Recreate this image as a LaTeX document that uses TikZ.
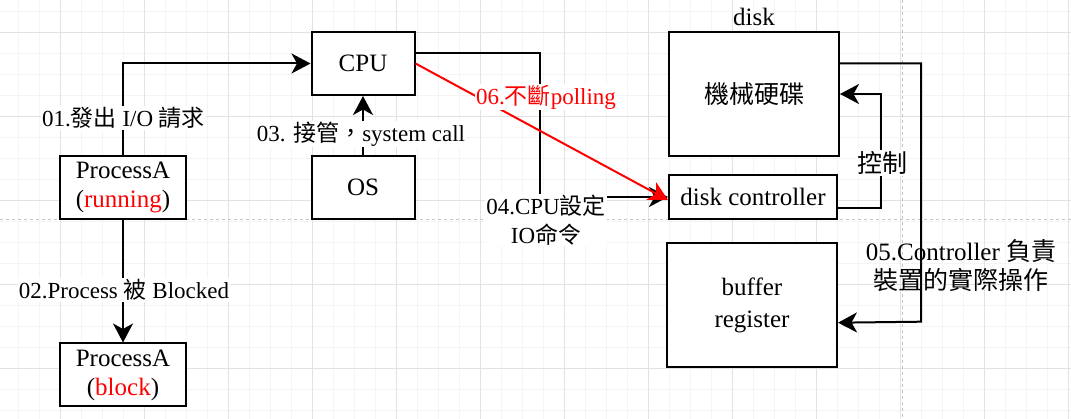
\documentclass[tikz,border=0pt]{standalone}
\usepackage{fontspec}
\setmainfont{Liberation Serif}
\newfontfamily\cjk{Noto Sans CJK TC}
\newcommand\zh[1]{{\cjk #1}}
\usetikzlibrary{arrows.meta,calc}
\definecolor{gridminor}{HTML}{F4F4F4}
\definecolor{gridmajor}{HTML}{E2E2E2}
\definecolor{pagebreak}{HTML}{C4C4C4}
\definecolor{hot}{HTML}{FF0000}
\begin{document}
\begin{tikzpicture}[x=1pt,y=-1pt,
  box/.style={draw=black, line width=2pt, fill=white, inner sep=0pt, align=center, font=\fontsize{25}{29}\selectfont},
  lbl/.style={fill=white, inner sep=1pt, align=center, font=\fontsize{23}{29}\selectfont},
  txt/.style={inner sep=0pt, align=center, font=\fontsize{25}{29}\selectfont},
  conn/.style={line width=2pt, -{Stealth[length=19pt,width=20pt,inset=5.5pt]}},
  minorline/.style={draw=gridminor, line width=1pt},
  majorline/.style={draw=gridmajor, line width=1pt},
  pageline/.style={draw=pagebreak, line width=1pt, dash pattern=on 3pt off 3pt}
]
\useasboundingbox (0,0) rectangle (1071,419);
\fill[white] (0,0) rectangle (1071,419);
% grid
\foreach \i in {0,...,50} {\draw[minorline] ({18.3+21*\i},0) -- ({18.3+21*\i},419);}
\foreach \j in {0,...,19} {\draw[minorline] (0,{11.3+21*\j}) -- (1071,{11.3+21*\j});}
\foreach \i in {0,...,12} {\draw[majorline] ({60.3+84*\i},0) -- ({60.3+84*\i},419);}
\foreach \j in {0,...,4} {\draw[majorline] (0,{32.3+84*\j}) -- (1071,{32.3+84*\j});}
\draw[pageline] (0,219.5) -- (1071,219.5);
\draw[pageline] (902.3,0) -- (902.3,419);

% boxes
\node[box, minimum width=126pt, minimum height=63pt] (pa1) at (123,187.5) {ProcessA\\(\textcolor{hot}{running})};
\node[box, minimum width=126pt, minimum height=63pt] (pa2) at (123,375) {ProcessA\\(\textcolor{hot}{block})};
\node[box, minimum width=103pt, minimum height=63pt] (cpu) at (363,63.5) {CPU};
\node[box, minimum width=103pt, minimum height=63pt] (os) at (363,187.5) {OS};
\node[box, minimum width=170pt, minimum height=124pt] (hdd) at (754,94) {\zh{機械硬碟}};
\node[box, minimum width=168pt, minimum height=44pt] (dc) at (753,197) {disk controller};
\node[box, minimum width=170pt, minimum height=124pt, font=\fontsize{25}{32}\selectfont] (br) at (752,305) {buffer\\register};
\node[txt] (disk) at (754,17) {disk};

% connector helpers
\coordinate (c4) at (540,197);
\coordinate (c6) at (881,94);
\coordinate (c7) at (921,321.7);

% connectors
\draw[conn] (pa1.north) |- (cpu.west);
\draw[conn] (pa1.south) -- (pa2.north);
\draw[conn] (os.north) -- (cpu.south);
\draw[conn] ([yshift=10.2pt]cpu.east) -| (c4) -- (dc.west);
\draw[conn] ([yshift=-11.3pt]dc.east) -| (c6) -- (hdd.east);
\draw[conn] ([yshift=30.7pt]hdd.east) -| (c7) -- ([yshift=-17.7pt]br.east);
\draw[conn, draw=hot, -{Stealth[length=19pt,width=20pt,inset=5.5pt,fill=hot]}] (cpu.east) -- ([yshift=-3pt]dc.west);

% labels
\node[lbl] (l01) at (123.5,118) {01.\zh{發出} I/O \zh{請求}};
\node[lbl] (l02) at (124,290) {02.Process \zh{被} Blocked};
\node[lbl] (l03) at (361,134) {03. \zh{接管，}system call};
\node[lbl] (l04) at (546,220) {04.CPU\zh{設定}\\IO\zh{命令}};
\node[lbl, text=hot] (l06) at (546,97) {06.\zh{不斷}polling};
\node[lbl, font=\fontsize{25}{29}\selectfont] (l07) at (882,163) {\zh{控制}};
\node[txt] (l05) at (961,266) {05.Controller \zh{負責}\\\zh{裝置的實際操作}};
\end{tikzpicture}
\end{document}
